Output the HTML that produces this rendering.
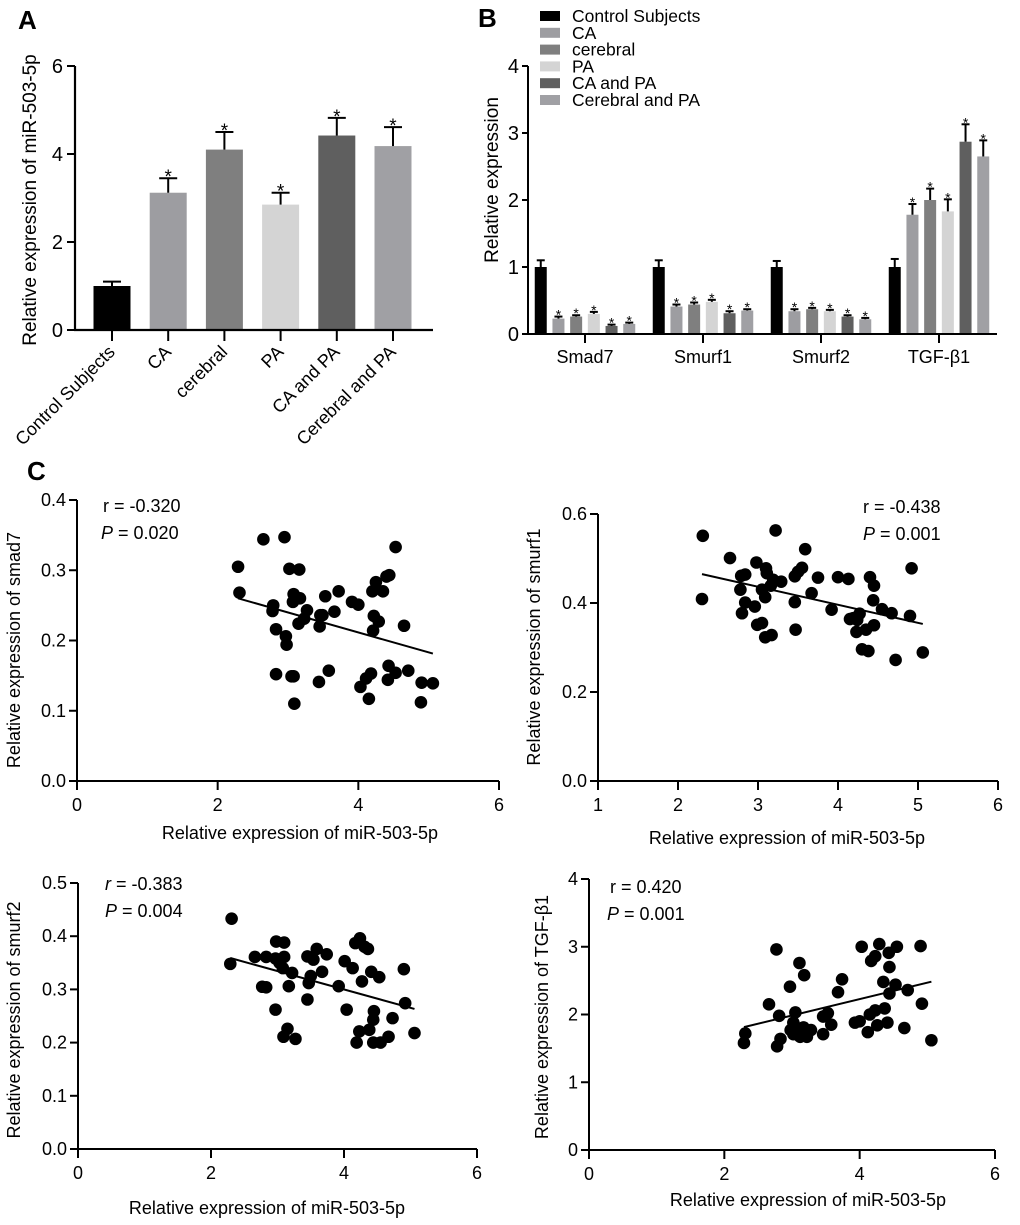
<!DOCTYPE html>
<html><head><meta charset="utf-8"><style>
html,body{margin:0;padding:0;background:#fff}
svg{display:block;font-family:"Liberation Sans",Arial,sans-serif}
</style></head><body>
<svg id="fig" width="1020" height="1225" viewBox="0 0 1020 1225" xmlns="http://www.w3.org/2000/svg">
<text x="18" y="29" font-size="26" font-weight="bold">A</text>
<text x="478" y="27" font-size="26" font-weight="bold">B</text>
<text x="27" y="480" font-size="26" font-weight="bold">C</text>
<g id="gA"></g>
<g id="gB"></g>
<g id="gC1"></g>
<g id="gC2"></g>
<g id="gC3"></g>
<g id="gC4"></g>
</svg>
<script>
// ---- Panel A data ----
const aCategories = ["Control Subjects","CA","cerebral","PA","CA and PA","Cerebral and PA"];
const aValues = [1.0, 3.12, 4.1, 2.85, 4.42, 4.18];
const aErrors = [0.1, 0.33, 0.4, 0.27, 0.4, 0.43];
const aStars = ["", "*", "*", "*", "*", "*"];
const aTicks = [0, 2, 4, 6];
// ---- Panel B data ----
const bGroups = ["Smad7","Smurf1","Smurf2","TGF-β1"];
const bSeries = ["Control Subjects","CA","cerebral","PA","CA and PA","Cerebral and PA"];
const bControl = [1.0, 1.0, 1.0, 1.0];
const bCA = [0.23, 0.41, 0.34, 1.78];
const bCerebral = [0.26, 0.44, 0.37, 2.0];
const bPA = [0.30, 0.48, 0.34, 1.83];
const bCAPA = [0.12, 0.31, 0.26, 2.87];
const bCerPA = [0.15, 0.35, 0.22, 2.65];
const bErrControl = [0.1, 0.1, 0.09, 0.12];
const bErrCA = [0.03, 0.03, 0.03, 0.16];
const bErrCerebral = [0.02, 0.03, 0.02, 0.17];
const bErrPA = [0.03, 0.03, 0.02, 0.18];
const bErrCAPA = [0.02, 0.03, 0.02, 0.26];
const bErrCerPA = [0.02, 0.02, 0.02, 0.24];
const bTicks = [0, 1, 2, 3, 4];
// ---- Panel C data ----
const c1X = [2.29,2.31,2.65,2.95,3.02,3.16,3.08,3.07,3.17,2.79,2.78,2.83,2.97,2.98,2.83,3.05,3.08,3.09,3.27,3.23,3.15,3.46,3.49,3.45,3.53,3.66,3.72,3.44,3.58,3.91,4.0,4.22,4.29,4.21,4.25,4.2,4.35,4.40,4.44,4.53,4.65,4.03,4.11,4.18,4.15,4.43,4.53,4.42,4.71,4.9,5.06,4.89];
const c1Y = [0.305,0.268,0.344,0.347,0.302,0.301,0.266,0.255,0.26,0.25,0.242,0.216,0.206,0.194,0.152,0.149,0.149,0.11,0.243,0.231,0.224,0.236,0.236,0.22,0.263,0.241,0.27,0.141,0.157,0.255,0.251,0.235,0.227,0.214,0.283,0.27,0.27,0.291,0.293,0.333,0.221,0.134,0.146,0.153,0.117,0.164,0.154,0.144,0.157,0.14,0.139,0.112];
const c2X = [2.31,2.30,2.65,2.98,2.79,2.84,2.78,2.84,2.80,2.96,2.99,3.05,3.09,3.17,3.10,3.11,3.05,3.09,3.19,3.16,3.29,3.22,3.46,3.50,3.55,3.59,3.46,3.47,3.67,3.75,3.92,4.0,4.13,4.15,4.19,4.24,4.27,4.23,4.35,4.40,4.45,4.44,4.45,4.30,4.38,4.55,4.67,4.90,4.92,4.72,5.06];
const c2Y = [0.551,0.409,0.501,0.491,0.461,0.464,0.43,0.401,0.377,0.392,0.351,0.355,0.323,0.328,0.478,0.467,0.43,0.413,0.452,0.439,0.448,0.563,0.46,0.47,0.479,0.521,0.402,0.34,0.422,0.457,0.385,0.458,0.454,0.364,0.366,0.362,0.376,0.335,0.34,0.458,0.439,0.406,0.35,0.296,0.292,0.386,0.377,0.371,0.478,0.272,0.289];
const c3X = [2.31,2.29,2.66,2.83,2.98,3.10,2.97,3.10,3.03,3.08,3.22,2.77,2.83,3.17,2.97,3.15,3.09,3.27,3.45,3.54,3.59,3.74,3.67,3.50,3.47,3.45,3.92,4.01,4.13,4.17,4.24,4.31,4.36,4.27,4.41,4.53,4.04,4.45,4.44,4.73,4.23,4.38,4.19,4.44,4.55,4.67,4.9,4.92,5.06];
const c3Y = [0.433,0.348,0.361,0.361,0.39,0.388,0.358,0.361,0.35,0.34,0.331,0.305,0.304,0.306,0.262,0.226,0.211,0.207,0.362,0.356,0.376,0.366,0.333,0.325,0.312,0.281,0.306,0.353,0.34,0.387,0.396,0.38,0.376,0.315,0.333,0.323,0.262,0.259,0.243,0.246,0.221,0.224,0.2,0.2,0.2,0.211,0.338,0.274,0.218];
const c4X = [2.29,2.31,2.66,2.77,2.81,2.83,2.78,2.97,3.11,3.18,3.05,3.02,2.98,3.02,3.10,3.17,3.12,3.22,3.28,3.46,3.46,3.53,3.58,3.68,3.74,3.93,4.0,4.12,4.03,4.17,4.23,4.29,4.43,4.55,4.44,4.35,4.53,4.44,4.37,4.23,4.15,4.26,4.41,4.71,4.66,4.90,4.92,5.06];
const c4Y = [1.58,1.72,2.15,2.96,1.98,1.64,1.53,2.41,2.76,2.58,2.03,1.88,1.77,1.71,1.72,1.81,1.67,1.67,1.77,1.71,1.97,2.02,1.85,2.33,2.52,1.88,1.9,1.74,3.0,2.79,2.86,3.04,2.91,3.0,2.70,2.48,2.44,2.31,2.09,2.06,2.0,1.84,1.88,2.36,1.80,3.01,2.16,1.62];
const c1Ticks = [0,0.1,0.2,0.3,0.4], c1XTicks=[0,2,4,6];
const c2Ticks = [0,0.2,0.4,0.6], c2XTicks=[1,2,3,4,5,6];
const c3Ticks = [0,0.1,0.2,0.3,0.4,0.5], c3XTicks=[0,2,4,6];
const c4Ticks = [0,1,2,3,4], c4XTicks=[0,2,4,6];

const NS="http://www.w3.org/2000/svg";
function mk(parent,tag,attrs,text){const e=document.createElementNS(NS,tag);for(const k in attrs)e.setAttribute(k,attrs[k]);if(text!==undefined)e.textContent=text;parent.appendChild(e);return e;}
function line(p,x1,y1,x2,y2,w){return mk(p,'line',{x1,y1,x2,y2,stroke:'#000','stroke-width':w||2});}

// ---------- Panel A ----------
(function(){
  const g=document.getElementById('gA');
  const x0=75,y0=330,yTop=66,yMax=6,xEnd=433;
  const ys=v=>y0-(v/yMax)*(y0-yTop);
  const xs=i=>112+i*56.2;
  const colors=["#000000","#9d9da1","#7f7f7f","#d4d4d4","#5f5f5f","#a0a0a4"];
  aValues.forEach((v,i)=>{
    const cx=xs(i),w=37;
    const r=mk(g,'rect',{x:cx-w/2,y:ys(v),width:w,height:y0-ys(v),fill:colors[i]});
    
    
    line(g,cx,ys(v),cx,ys(v+aErrors[i]),2);
    line(g,cx-9,ys(v+aErrors[i]),cx+9,ys(v+aErrors[i]),2);
    if(aStars[i]){const s=mk(g,'text',{x:cx,y:ys(v+aErrors[i])+5,'font-size':19,'text-anchor':'middle'},aStars[i]);
      
      }
    line(g,cx,y0,cx,y0+11,2);
    const t=mk(g,'text',{x:cx+4,y:y0+23,'font-size':18,'text-anchor':'end',transform:`rotate(-45 ${cx+4} ${y0+23})`},aCategories[i]);
    
    
  });
  line(g,x0,yTop,x0,y0+1,2.2);
  line(g,x0-1,y0,xEnd,y0,2.2);
  aTicks.forEach(v=>{line(g,x0-8,ys(v),x0,ys(v),2);
    const t=mk(g,'text',{x:x0-12,y:ys(v)+7,'font-size':20,'text-anchor':'end'},String(v));
    
    });
  const yt=mk(g,'text',{x:36,y:200,'font-size':19,'text-anchor':'middle',transform:'rotate(-90 36 200)'},'Relative expression of miR-503-5p');
  
  
})();

// ---------- Panel B ----------
(function(){
  const g=document.getElementById('gB');
  const x0=528,y0=334,yTop=66,yMax=4,xEnd=997;
  const ys=v=>y0-(v/yMax)*(y0-yTop);
  const groupCenters=i=>585+i*118;
  const colors=["#000000","#9d9da1","#7f7f7f","#d4d4d4","#5f5f5f","#a0a0a4"];
  const vals=[bControl,bCA,bCerebral,bPA,bCAPA,bCerPA];
  const errs=[bErrControl,bErrCA,bErrCerebral,bErrPA,bErrCAPA,bErrCerPA];
  bGroups.forEach((gn,gi)=>{
    const gc=groupCenters(gi);
    vals.forEach((arr,si)=>{
      const cx=gc+(si-2.5)*17.7,w=12,v=arr[gi],e=errs[si][gi];
      const r=mk(g,'rect',{x:cx-w/2,y:ys(v),width:w,height:y0-ys(v),fill:colors[si]});
      
      
      line(g,cx,ys(v),cx,ys(v+e),2);
      line(g,cx-4,ys(v+e),cx+4,ys(v+e),2);
      if(si>0){const s=mk(g,'text',{x:cx,y:ys(v+e)+3,'font-size':14,'text-anchor':'middle'},'*');
        
        }
    });
    line(g,gc,y0,gc,y0+9,2);
    const t=mk(g,'text',{x:gc,y:y0+29,'font-size':18,'text-anchor':'middle'},gn);
    
    
  });
  line(g,x0,yTop,x0,y0+1,2);
  line(g,x0-1,y0,xEnd,y0,2);
  bTicks.forEach(v=>{line(g,x0-6,ys(v),x0,ys(v),2);
    const t=mk(g,'text',{x:x0-9,y:ys(v)+7,'font-size':20,'text-anchor':'end'},String(v));
    
    });
  const yt=mk(g,'text',{x:498,y:180,'font-size':19,'text-anchor':'middle',transform:'rotate(-90 498 180)'},'Relative expression');
  
  
  bSeries.forEach((n,i)=>{
    const y=16+i*16.8;
    const r=mk(g,'rect',{x:540,y:y-5,width:20,height:10,fill:colors[i]});
    
    
    const t=mk(g,'text',{x:572,y:y+6,'font-size':17.5},n);
    
    
  });
})();

// ---------- Scatter panels ----------
function scatter(id,X,Y,o){
  const g=document.getElementById(id);
  const xs=v=>o.x0+(v-o.xMin)/(o.xMax-o.xMin)*(o.x1-o.x0);
  const ys=v=>o.y0-(v-0)/(o.yMax)*(o.y0-o.y1);
  line(g,o.x0,o.y1,o.x0,o.y0+1,2);
  line(g,o.x0-1,o.y0,o.x1,o.y0,2);
  o.yTicks.forEach(v=>{line(g,o.x0-8,ys(v),o.x0,ys(v),2);
    const t=mk(g,'text',{x:o.x0-11,y:ys(v)+6,'font-size':18,'text-anchor':'end'},o.yFmt(v));
    
    });
  o.xTicks.forEach(v=>{line(g,xs(v),o.y0,xs(v),o.y0+9,2);
    const t=mk(g,'text',{x:xs(v),y:o.y0+30,'font-size':18,'text-anchor':'middle'},String(v));
    
    });
  const n=X.length;let mx=0,my=0;for(let i=0;i<n;i++){mx+=X[i];my+=Y[i];}mx/=n;my/=n;
  let sxy=0,sxx=0;for(let i=0;i<n;i++){sxy+=(X[i]-mx)*(Y[i]-my);sxx+=(X[i]-mx)**2;}
  const b=sxy/sxx,a=my-b*mx;const xa=Math.min(...X),xb=Math.max(...X);
  const fl=line(g,xs(xa),ys(a+b*xa),xs(xb),ys(a+b*xb),2);
  
  
  for(let i=0;i<n;i++){
    const c=mk(g,'circle',{cx:xs(X[i]),cy:ys(Y[i]),r:6.3,fill:'#000'});
    
    
  }
  const xt=mk(g,'text',{x:o.xtX,y:o.xtY,'font-size':18,'text-anchor':'middle'},'Relative expression of miR-503-5p');
  
  
  const yt=mk(g,'text',{x:o.ytX,y:o.ytY,'font-size':18,'text-anchor':'middle',transform:`rotate(-90 ${o.ytX} ${o.ytY})`},o.yTitle);
  
  
  const r=mk(g,'text',{x:o.aX,y:o.aY,'font-size':18});
  mk(r,'tspan',{'font-style':o.rItalic?'italic':'normal'},'r');
  mk(r,'tspan',{},' = '+o.r);
  
  
  const p=mk(g,'text',{x:o.pX,y:o.aY+27,'font-size':18});
  mk(p,'tspan',{'font-style':'italic'},'P');
  mk(p,'tspan',{},' = '+o.p);
  
  
}
const f1=v=>v.toFixed(1), f0=v=>String(v);
scatter('gC1',c1X,c1Y,{x0:77,x1:499,xMin:0,xMax:6,y0:781,y1:500,yMax:0.4,yTicks:c1Ticks,xTicks:c1XTicks,yFmt:f1,
  xtX:300,xtY:839,ytX:20,ytY:650,yTitle:'Relative expression of smad7',aX:103,aY:512,pX:101,r:'-0.320',p:'0.020'});
scatter('gC2',c2X,c2Y,{x0:598,x1:998,xMin:1,xMax:6,y0:781,y1:514,yMax:0.6,yTicks:c2Ticks,xTicks:c2XTicks,yFmt:f1,
  xtX:787,xtY:844,ytX:540,ytY:647,yTitle:'Relative expression of smurf1',aX:863,aY:513,pX:863,r:'-0.438',p:'0.001'});
scatter('gC3',c3X,c3Y,{x0:78,x1:477,xMin:0,xMax:6,y0:1149,y1:883,yMax:0.5,yTicks:c3Ticks,xTicks:c3XTicks,yFmt:f1,
  xtX:267,xtY:1214,ytX:20,ytY:1020,yTitle:'Relative expression of smurf2',aX:105,aY:890,pX:105,rItalic:true,r:'-0.383',p:'0.004'});
scatter('gC4',c4X,c4Y,{x0:589,x1:995,xMin:0,xMax:6,y0:1150,y1:879,yMax:4,yTicks:c4Ticks,xTicks:c4XTicks,yFmt:f0,
  xtX:808,xtY:1206,ytX:548,ytY:1017,yTitle:'Relative expression of TGF-β1',aX:610,aY:893,pX:607,r:'0.420',p:'0.001'});
</script>
</body></html>
